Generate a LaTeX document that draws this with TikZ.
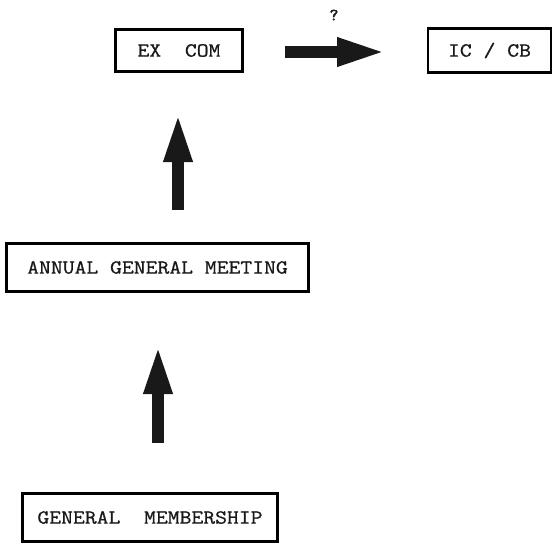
\documentclass[tikz,border=0pt]{standalone}
\usepackage{fontspec}
\newfontfamily\courlike[FakeStretch=1.15,FakeBold=0.8]{Latin Modern Mono}
\newfontfamily\qfont[FakeBold=2.5]{Latin Modern Mono}
\usetikzlibrary{arrows.meta}
\tikzset{
  box/.style={draw=black, line width=2.8pt, inner sep=0pt, font=\courlike\fontsize{20}{22}\selectfont, text=black!90},
  blockarrow/.style={draw=black!90, line width=11.5pt, line cap=butt, -{Triangle[length=49pt,width=26pt]}},
}
\begin{document}
\begin{tikzpicture}[x=1pt,y=-1pt]
\useasboundingbox (0,0) rectangle (553,547);
\node[box, minimum width=127pt, minimum height=42pt] (excom) at (179,50.5) {EX\ \ COM};
\node[box, minimum width=123pt, minimum height=44pt] (iccb) at (489.5,50.5) {IC / CB};
\node[box, minimum width=302pt, minimum height=48pt] (agm) at (157.5,267.5) {ANNUAL GENERAL MEETING};
\node[box, minimum width=255pt, minimum height=48pt] (gm) at (150,517.5) {GENERAL\ \ MEMBERSHIP};
\node[font=\qfont\fontsize{17}{19}\selectfont, text=black!90] (q) at (334,15) {?};
\coordinate (h1) at (285,52);
\coordinate (h2) at (386,52);
\coordinate (v1a) at (178,210);
\coordinate (v1b) at (178,113);
\coordinate (v2a) at (158,443);
\coordinate (v2b) at (158,345);
\draw[blockarrow] (h1) -- (h2);
\draw[blockarrow] (v1a) -- (v1b);
\draw[blockarrow] (v2a) -- (v2b);
\end{tikzpicture}
\end{document}
